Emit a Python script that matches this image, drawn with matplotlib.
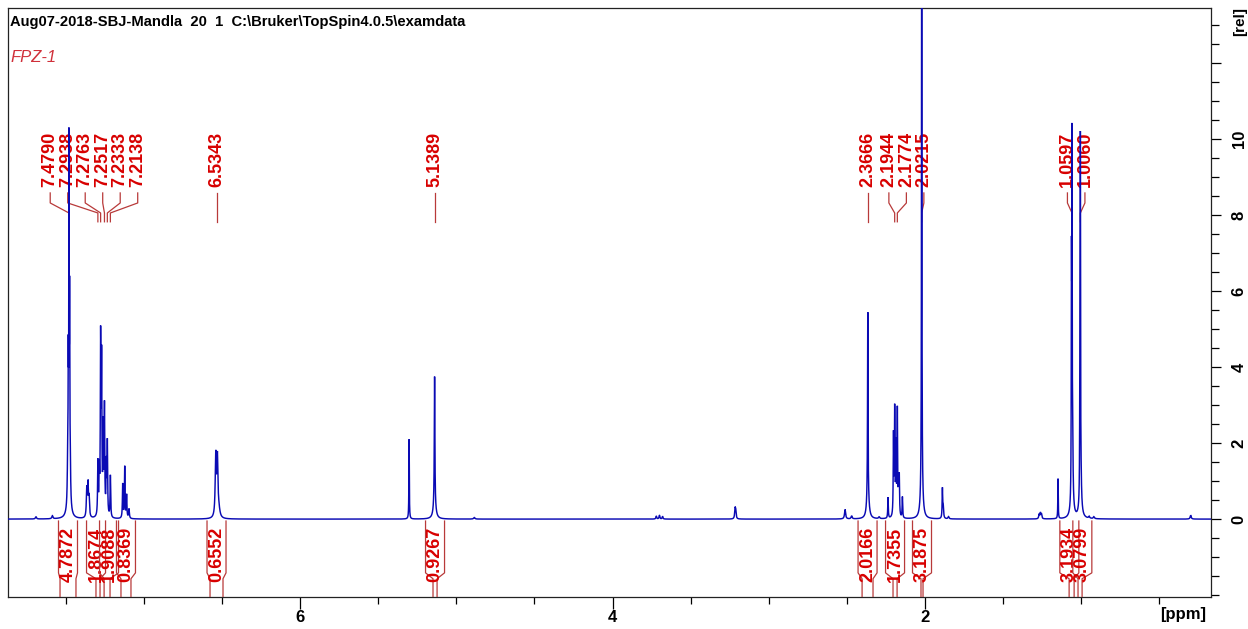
import numpy as np
import matplotlib
matplotlib.use("Agg")
import matplotlib.pyplot as plt
from matplotlib.ticker import MultipleLocator
from matplotlib.transforms import blended_transform_factory

plt.rcParams['font.family'] = ['Liberation Sans', 'DejaVu Sans']

TITLE = "Aug07-2018-SBJ-Mandla  20  1  C:\\Bruker\\TopSpin4.0.5\\examdata"
SAMPLE = "FPZ-1"

# Resonance lines of the 1H spectrum: shift (ppm), height (rel), half-width (ppm)
line_ppm = [7.690, 7.585,
            7.4790, 7.4748, 7.4832, 7.4870, 7.4710, 7.4790,
            7.3650, 7.3570, 7.3500,
            7.2938, 7.2850, 7.2763, 7.2700, 7.2600, 7.2517, 7.2400, 7.2333,
            7.2138,
            7.1350, 7.1220, 7.1100, 7.0950,
            6.5395, 6.5290, 6.5200,
            5.3020, 5.1389, 5.1389, 4.8850,
            3.7200, 3.7000, 3.6800, 3.2160, 3.2120,
            2.5120, 2.4700, 2.3666, 2.3660, 2.2940, 2.2370,
            2.2020, 2.1944, 2.1860, 2.1774, 2.1700, 2.1650, 2.1450,
            2.0215, 2.0215, 1.8890, 1.8840, 1.8500,
            1.2700, 1.2620, 1.2550, 1.1490,
            1.0597, 1.0630, 1.0560, 1.0590,
            1.0060, 1.0090, 1.0030, 1.0060,
            0.9500, 0.9200, 0.3000]
line_height = [0.06, 0.08,
               8.7, 4.8, 3.2, 1.0, 1.0, 0.45,
               0.75, 0.85, 0.50,
               1.40, 1.10, 4.50, 3.90, 2.20, 2.80, 1.30, 1.90,
               1.10,
               0.90, 1.35, 0.60, 0.25,
               1.60, 1.50, 0.20,
               2.10, 3.45, 0.30, 0.04,
               0.08, 0.10, 0.07, 0.25, 0.20,
               0.25, 0.08, 4.85, 0.60, 0.05, 0.55,
               2.10, 2.75, 1.80, 2.75, 0.80, 1.00, 0.55,
               16.0, 0.80, 0.75, 0.30, 0.06,
               0.12, 0.15, 0.12, 1.05,
               8.30, 5.80, 1.80, 0.40,
               8.60, 3.60, 0.80, 0.35,
               0.05, 0.05, 0.10]
line_width = [0.004, 0.004,
              0.0012, 0.0015, 0.0015, 0.003, 0.003, 0.012,
              0.003, 0.003, 0.003,
              0.0022, 0.0022, 0.0022, 0.0022, 0.0022, 0.0022, 0.0022, 0.0022,
              0.0022,
              0.0022, 0.0022, 0.0022, 0.003,
              0.004, 0.004, 0.008,
              0.0015, 0.0022, 0.010, 0.005,
              0.003, 0.003, 0.003, 0.003, 0.003,
              0.004, 0.004, 0.0018, 0.008, 0.004, 0.002,
              0.002, 0.002, 0.002, 0.002, 0.002, 0.002, 0.002,
              0.0015, 0.008, 0.002, 0.003, 0.004,
              0.003, 0.003, 0.003, 0.0015,
              0.0012, 0.0015, 0.003, 0.010,
              0.0012, 0.0015, 0.004, 0.010,
              0.004, 0.004, 0.004]

# Picked peaks
pick_ppm = [7.4790, 7.2938, 7.2763, 7.2517, 7.2333, 7.2138, 6.5343, 5.1389,
            2.3666, 2.1944, 2.1774, 2.0215, 1.0597, 1.0060]

# Integrals: value and limits (ppm)
int_value = [4.7872, 1.8674, 1.9088, 0.8369, 0.6552, 0.9267,
             2.0166, 1.7355, 3.1875, 3.1934, 3.0799]
int_from = [7.536, 7.306, 7.254, 7.146, 6.576, 5.149,
            2.403, 2.205, 2.026, 1.078, 1.021]
int_to = [7.434, 7.280, 7.216, 7.082, 6.493, 5.123,
          2.333, 2.179, 2.013, 1.046, 0.995]

X_LEFT, X_RIGHT = 7.869, 0.170
Y_BOTTOM, Y_TOP = -2.05, 13.45

W, H = 1248, 629
fig = plt.figure(figsize=(W / 100, H / 100), dpi=100)
ax = fig.add_axes([8 / W, 32 / H, 1203 / W, 589 / H])
ax.set_xlim(X_LEFT, X_RIGHT)
ax.set_ylim(Y_BOTTOM, Y_TOP)

# spectrum as a sum of Lorentzian lines
ppm = np.linspace(X_LEFT, X_RIGHT, 90000)
intensity = np.zeros_like(ppm)
for p0, h, w in zip(line_ppm, line_height, line_width):
    intensity += h / (1.0 + ((ppm - p0) / w) ** 2)
ax.plot(ppm, intensity, color='#0a0ab4', lw=1.05, zorder=5,
        solid_joinstyle='miter')

red = '#d80000'
dark_red = '#b83a3a'
blend = blended_transform_factory(ax.transData, ax.transAxes)
ppm_per_px = (X_LEFT - X_RIGHT) / 1203


def spread(values, step):
    """Spread labels evenly inside groups so neighbours keep `step` apart."""
    groups = [[v] for v in sorted(values, reverse=True)]

    def place(g):
        mid = 0.5 * ((g[0] + g[-1]) / 2 + sum(g) / len(g))
        n = len(g)
        return [mid + step * (n - 1) / 2 - step * i for i in range(n)]

    merged = True
    while merged:
        merged = False
        spots = [place(g) for g in groups]
        for i in range(len(groups) - 1):
            if spots[i][-1] - spots[i + 1][0] < step - 1e-9:
                groups[i] = groups[i] + groups[i + 1]
                del groups[i + 1]
                merged = True
                break
    return [v for g in groups for v in place(g)]


# peak picking labels with their leader lines
label_pos = spread(pick_ppm, 17.5 * ppm_per_px)
for p, lx in zip(sorted(pick_ppm, reverse=True), label_pos):
    ax.plot([lx, lx, p, p], [0.686, 0.669, 0.652, 0.637], color=dark_red,
            lw=0.9, transform=blend, zorder=3)
    ax.text(lx, 0.696, f"{p:.4f}", rotation=90, ha='center', va='bottom',
            transform=blend, color=red, fontsize=13, fontweight='bold',
            zorder=3)

# integral brackets and values
half = 9.5 * ppm_per_px
mids = [(a + b) / 2 for a, b in zip(int_from, int_to)]
int_pos = spread(mids, 13 * ppm_per_px)
for v, a, b, mid in zip(int_value, int_from, int_to, int_pos):
    left, right = mid + half, mid - half
    ax.plot([left, left, a, a], [0.129, 0.041, 0.031, 0.0], color=dark_red,
            lw=0.9, transform=blend, zorder=3)
    ax.plot([right, right, b, b], [0.129, 0.041, 0.031, 0.0],
            color=dark_red, lw=0.9, transform=blend, zorder=3)
    ax.text(mid, 0.073, f"{v:.4f}", rotation=90, ha='center', va='center',
            transform=blend, color=red, fontsize=13, fontweight='bold',
            zorder=3)

# title lines
ax.text(2 / 1203, (597 - 22) / 589, TITLE, transform=ax.transAxes,
        ha='left', va='center', fontsize=10.6, fontweight='bold',
        color='black')
ax.text(2 / 1203, (597 - 58) / 589, SAMPLE, transform=ax.transAxes,
        ha='left', va='center', fontsize=12, fontstyle='italic',
        color='#d0303a')

# axes, ticks
for s in ax.spines.values():
    s.set_linewidth(0.9)
    s.set_color('#222222')

ax.set_xticks([2, 4, 6])
ax.set_xticklabels(['2', '4', '6'], fontweight='bold')
ax.xaxis.set_minor_locator(MultipleLocator(0.5))
ax.tick_params(axis='x', which='major', direction='out', length=8.5,
               width=0.9, labelsize=12, pad=1)
ax.tick_params(axis='x', which='minor', direction='out', length=5,
               width=0.9)

ax.yaxis.tick_right()
yt = [0, 2, 4, 6, 8, 10, 12]
ax.set_yticks(yt)
ax.set_yticklabels(['0', '2', '4', '6', '8', '10', ''], rotation=90,
                   va='center', fontweight='bold')
ax.yaxis.set_minor_locator(MultipleLocator(0.5))
ax.tick_params(axis='y', which='major', direction='out', length=7,
               width=0.9, labelsize=12, pad=8)
ax.tick_params(axis='y', which='minor', direction='out', length=6,
               width=0.9)

fig.text(1183 / W, 1 - 614 / H, '[ppm]', ha='center', va='center',
         fontsize=12, fontweight='bold')
fig.text(1240 / W, 1 - 21 / H, '[rel]', ha='center', va='center',
         rotation=90, fontsize=11, fontweight='bold')

fig.savefig('out.png', dpi=100, facecolor='white')
